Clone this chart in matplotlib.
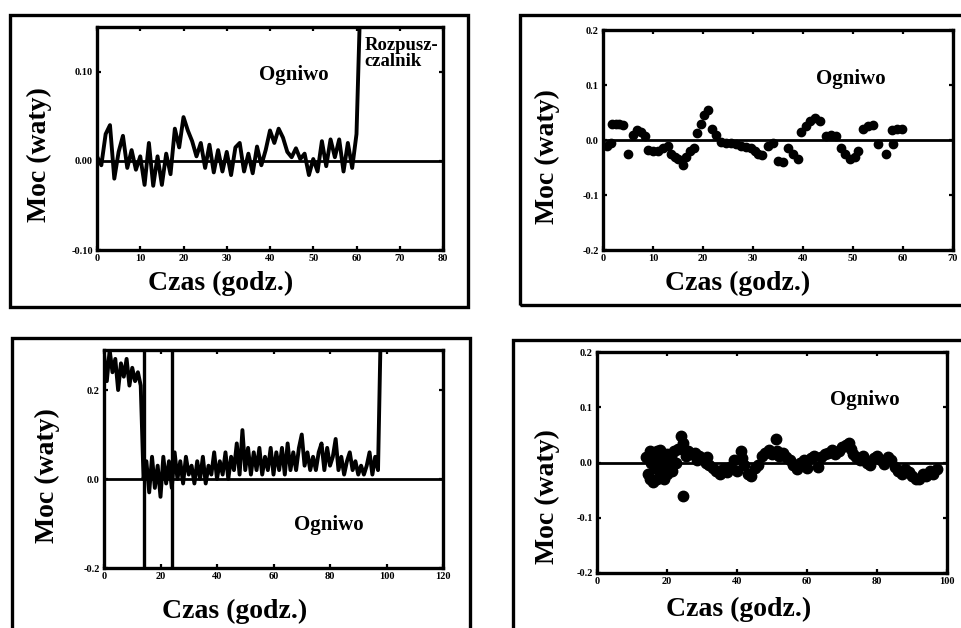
import numpy as np
import matplotlib
matplotlib.use('Agg')
import matplotlib.pyplot as plt
from matplotlib.patches import Rectangle

plt.rcParams['font.family'] = ['Liberation Serif', 'DejaVu Serif']
plt.rcParams['font.weight'] = 'bold'

# --- panel 1: cell power, then solvent (line trace) ---
p1_hours = list(range(0, 62))
p1_power = [0.005, -0.005, 0.030, 0.040, -0.020, 0.010, 0.028, -0.008, 0.012, -0.010,
            0.005, -0.027, 0.020, -0.028, 0.005, -0.027, 0.008, -0.015, 0.036, 0.015,
            0.049, 0.034, 0.022, 0.005, 0.020, -0.008, 0.018, -0.013, 0.012, -0.012,
            0.010, -0.016, 0.015, 0.020, -0.012, 0.008, -0.014, 0.016, -0.005, 0.012,
            0.034, 0.020, 0.036, 0.026, 0.010, 0.004, 0.014, 0.002, 0.008, -0.016,
            0.002, -0.012, 0.022, -0.006, 0.024, 0.004, 0.024, -0.012, 0.020, -0.008,
            0.030, 0.200]
p1_xticks = [0, 10, 20, 30, 40, 50, 60, 70, 80]
p1_yticks = [-0.10, 0.00, 0.10]
p1_ylabels = ['-0.10', '0.00', '0.10']

# --- panel 2: cell power (points) ---
p2_hours = [0.8, 1.5, 1.8, 2.5, 3.2, 4.0, 5.0, 6.0, 6.7, 7.5, 8.3, 9.0, 10.0, 11.0, 12.0, 13.0,
            13.5, 14.3, 15.0, 16.0, 16.5, 17.3, 18.2, 18.8, 19.5, 20.2, 21.0, 21.8, 22.6,
            23.5, 24.5, 25.5, 26.5, 27.5, 28.5, 29.5, 30.3, 31.0, 31.7, 33.0, 34.0, 35.0,
            36.0, 37.0, 38.0, 39.0, 39.5, 40.5, 41.3, 42.3, 43.3, 44.5, 45.5, 46.5, 47.5,
            48.3, 49.3, 50.3, 51.0, 52.0, 53.0, 54.0, 55.0, 56.5, 57.7, 58.0, 58.7, 59.7]
p2_power = [-0.010, -0.005, 0.030, 0.030, 0.030, 0.028, -0.025, 0.010, 0.018, 0.014, 0.008,
            -0.018, -0.020, -0.020, -0.015, -0.010, -0.025, -0.030, -0.035, -0.045, -0.030,
            -0.020, -0.015, 0.012, 0.030, 0.045, 0.055, 0.020, 0.010, -0.003, -0.005, -0.005,
            -0.007, -0.010, -0.012, -0.015, -0.020, -0.025, -0.028, -0.010, -0.005, -0.038,
            -0.040, -0.015, -0.025, -0.035, 0.015, 0.025, 0.035, 0.040, 0.035, 0.008, 0.010,
            0.008, -0.015, -0.025, -0.035, -0.030, -0.020, 0.020, 0.025, 0.028, -0.008,
            -0.025, 0.018, -0.008, 0.020, 0.020]
p2_xticks = [0, 10, 20, 30, 40, 50, 60, 70]
p2_yticks = [-0.2, -0.1, 0.0, 0.1, 0.2]
p2_ylabels = ['-0.2', '-0.1', '0.0', '0.1', '0.2']

# --- panel 3: cell power (line trace) with two event markers ---
p3_hours = list(range(0, 99))
p3_power = [0.28, 0.22, 0.29, 0.24, 0.27, 0.20, 0.26, 0.23, 0.27, 0.21,
            0.25, 0.22, 0.24, 0.21, 0.00, 0.04, -0.03, 0.05, -0.02, 0.03,
            -0.04, 0.05, -0.01, 0.04, -0.02, 0.06, 0.00, 0.04, -0.01, 0.05,
            0.01, 0.03, -0.01, 0.04, 0.00, 0.05, -0.01, 0.03, 0.01, 0.06,
            0.00, 0.04, 0.01, 0.06, 0.00, 0.05, 0.02, 0.08, 0.01, 0.11,
            0.02, 0.07, 0.01, 0.06, 0.02, 0.07, 0.01, 0.05, 0.02, 0.07,
            0.01, 0.06, 0.02, 0.07, 0.01, 0.08, 0.02, 0.06, 0.02, 0.07,
            0.10, 0.03, 0.06, 0.02, 0.05, 0.02, 0.06, 0.08, 0.02, 0.07,
            0.03, 0.05, 0.09, 0.02, 0.05, 0.01, 0.04, 0.06, 0.02, 0.04,
            0.01, 0.03, 0.01, 0.03, 0.06, 0.01, 0.05, 0.02, 0.35]
p3_events = [14, 24]
p3_xticks = [0, 20, 40, 60, 80, 100, 120]
p3_yticks = [-0.2, 0.0, 0.2]
p3_ylabels = ['-0.2', '0.0', '0.2']

# --- panel 4: cell power (points) ---
p4_hours = [14, 14.5, 15, 15, 15.5, 16, 16, 16.5, 17, 17, 17.5, 18, 18, 18.5, 19, 19, 19.5,
            20, 20, 20.5, 21, 21.5, 22, 22.5, 23, 24, 24.5, 24.7, 25, 25.5, 26, 27, 28,
            28.5, 29, 30, 31, 31.5, 32, 33, 34, 35, 36, 37, 38, 39, 40, 41, 41.5, 42, 43,
            44, 45, 46, 47, 48, 49, 50, 51, 51.5, 52, 53, 54, 55, 56, 57, 58, 59, 60, 61,
            62, 63, 64, 65, 66, 67, 68, 69, 70, 71, 72, 72.5, 73, 74, 75, 76, 77, 78, 79,
            80, 81, 82, 83, 84, 85, 86, 87, 88, 89, 90, 91, 92, 93, 94, 95, 96, 97]
p4_power = [0.010, -0.020, 0.020, -0.030, 0.000, -0.035, 0.015, -0.010, 0.020, -0.030,
            0.005, -0.025, 0.022, -0.010, 0.010, -0.030, 0.000, -0.020, 0.015, -0.005,
            0.010, -0.015, 0.020, 0.000, 0.025, 0.048, 0.035, -0.060, 0.020, 0.012,
            0.020, 0.015, 0.018, 0.005, 0.012, 0.008, 0.000, 0.010, -0.005, -0.010,
            -0.015, -0.020, -0.012, -0.018, -0.008, 0.005, -0.015, 0.020, 0.008, -0.005,
            -0.020, -0.025, -0.010, -0.005, 0.012, 0.018, 0.022, 0.015, 0.042, 0.020,
            0.012, 0.018, 0.010, 0.005, -0.005, -0.012, 0.000, 0.005, -0.010, 0.008,
            0.012, -0.008, 0.010, 0.015, 0.018, 0.022, 0.015, 0.020, 0.028, 0.032,
            0.036, 0.025, 0.015, 0.010, 0.005, 0.012, 0.000, -0.005, 0.008, 0.012,
            0.005, -0.002, 0.010, 0.005, -0.008, -0.015, -0.020, -0.012, -0.018, -0.025,
            -0.030, -0.030, -0.020, -0.025, -0.015, -0.020, -0.012]
p4_xticks = [0, 20, 40, 60, 80, 100]
p4_yticks = [-0.2, -0.1, 0.0, 0.1, 0.2]
p4_ylabels = ['-0.2', '-0.1', '0.0', '0.1', '0.2']

fig = plt.figure(figsize=(9.61, 6.28), dpi=100)
W, H = 961.0, 628.0


def px_axes(l, t, r, b):
    return fig.add_axes([l / W, 1 - b / H, (r - l) / W, (b - t) / H])


def frame(l, t, r, b):
    fig.patches.append(Rectangle((l / W, 1 - b / H), (r - l) / W, (b - t) / H,
                                 transform=fig.transFigure, fill=False,
                                 lw=2.4, ec='black'))


def style(ax, xlim, ylim, xticks, yticks, ylabels, xlab_pos, ylab_pos):
    ax.set_xlim(*xlim)
    ax.set_ylim(*ylim)
    ax.set_xticks(xticks)
    ax.set_xticklabels([str(t) for t in xticks])
    ax.set_yticks(yticks)
    ax.set_yticklabels(ylabels)
    ax.tick_params(direction='in', length=3, width=1.6, labelsize=7.5,
                   top=True, right=True, pad=3)
    for s in ax.spines.values():
        s.set_linewidth(2.4)
    ax.axhline(0, color='black', lw=2.0)
    ax.set_xlabel('Czas (godz.)', fontsize=20, fontweight='bold', va='top')
    ax.xaxis.set_label_coords(*xlab_pos)
    ax.set_ylabel('Moc (waty)', fontsize=20, fontweight='bold')
    ax.yaxis.set_label_coords(*ylab_pos)


# outer scanned boxes
frame(10, 15, 468, 307)
frame(520, 15, 975, 305)
frame(12, 338, 470, 640)
frame(513, 340, 975, 640)

# panel 1
ax1 = px_axes(97, 27, 443, 250)
ax1.plot(p1_hours, p1_power, color='black', lw=2.8)
style(ax1, (0, 80), (-0.10, 0.15), p1_xticks, p1_yticks, p1_ylabels,
      (0.358, -0.095), (-0.13, 0.426))
ax1.text(45.5, 0.096, 'Ogniwo', fontsize=15, fontweight='bold', ha='center', va='center')
ax1.text(61.9, 0.139, 'Rozpusz-\nczalnik', fontsize=13.5, fontweight='bold',
         ha='left', va='top', linespacing=0.95, clip_on=False)

# panel 2
ax2 = px_axes(603, 30, 953, 250)
ax2.plot(p2_hours, p2_power, 'o', color='black', ms=6)
style(ax2, (0, 70), (-0.2, 0.2), p2_xticks, p2_yticks, p2_ylabels,
      (0.386, -0.095), (-0.123, 0.423))
ax2.text(49.6, 0.111, 'Ogniwo', fontsize=15, fontweight='bold', ha='center', va='center')

# panel 3
ax3 = px_axes(104, 350, 443, 568)
ax3.plot(p3_hours, p3_power, color='black', lw=2.8)
for ev in p3_events:
    ax3.axvline(ev, color='black', lw=2.4)
style(ax3, (0, 120), (-0.2, 0.29), p3_xticks, p3_yticks, p3_ylabels,
      (0.386, -0.14), (-0.13, 0.422))
ax3.text(79.5, -0.104, 'Ogniwo', fontsize=15, fontweight='bold', ha='center', va='center')

# panel 4
ax4 = px_axes(597, 352, 947, 573)
ax4.plot(p4_hours, p4_power, 'o', color='black', ms=7.5)
style(ax4, (0, 100), (-0.2, 0.2), p4_xticks, p4_yticks, p4_ylabels,
      (0.406, -0.11), (-0.106, 0.344))
ax4.text(76.6, 0.114, 'Ogniwo', fontsize=15, fontweight='bold', ha='center', va='center')

fig.savefig('out.png', dpi=100)
